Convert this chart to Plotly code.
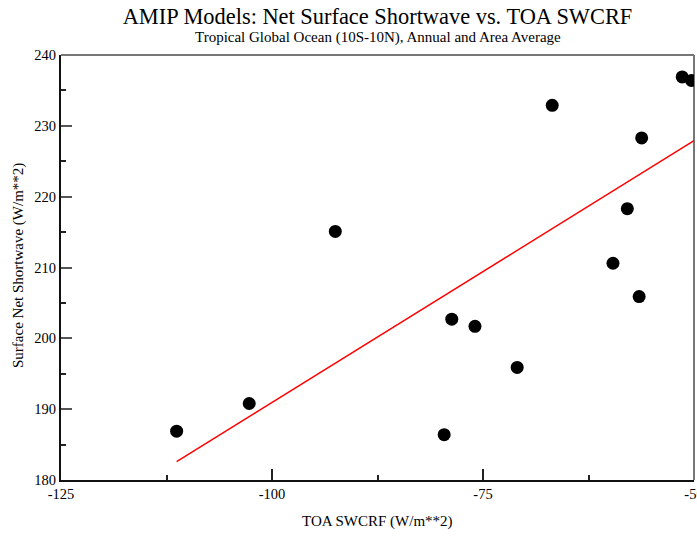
import plotly.graph_objects as go

# Model points: TOA SWCRF (W/m**2) vs Surface Net Shortwave (W/m**2)
toa_swcrf = [-111.3, -102.7, -92.5, -79.6, -78.7, -75.95, -70.95, -66.8,
             -59.6, -57.9, -56.5, -56.2, -51.4, -50.3]
sfc_net_sw = [186.9, 190.8, 215.1, 186.4, 202.7, 201.7, 195.9, 232.9,
              210.6, 218.3, 205.9, 228.3, 236.9, 236.4]

# Regression line
fit_x = [-111.3, -50.0]
fit_y = [182.6, 227.9]

x_ticks = [-125, -100, -75, -50]
y_ticks = [180, 190, 200, 210, 220, 230, 240]

FONT = "Liberation Serif"

fig = go.Figure()
fig.add_trace(go.Scatter(x=fit_x, y=fit_y, mode="lines",
                         line=dict(color="#ff0000", width=1.5),
                         showlegend=False, hoverinfo="skip"))
fig.add_trace(go.Scatter(x=toa_swcrf, y=sfc_net_sw, mode="markers",
                         marker=dict(color="black", size=13),
                         showlegend=False))

fig.update_layout(
    template="none",
    width=697, height=536,
    margin=dict(l=61, r=3, t=55, b=56, autoexpand=False),
    paper_bgcolor="white", plot_bgcolor="white",
    font=dict(family=FONT, color="black", size=14.5),
    title=dict(text="AMIP Models: Net Surface Shortwave vs. TOA SWCRF",
               x=0.5, xref="paper", xanchor="center",
               y=1 - 16 / 536, yref="container", yanchor="middle",
               font=dict(family=FONT, size=22.4, color="black")),
    xaxis=dict(range=[-125, -50], tickvals=x_ticks,
               ticktext=[str(v) for v in x_ticks],
               automargin=False,
               ticks="inside", ticklen=11, tickwidth=1.5, tickcolor="#222",
               minor=dict(ticks="inside", ticklen=5, dtick=12.5, tick0=-125,
                          tickcolor="#222", tickwidth=1.5),
               showgrid=False, zeroline=False,
               showline=True, linecolor="#111", linewidth=2,
               ticklabeloverflow="allow",
               tickfont=dict(family=FONT, size=14.5, color="black")),
    yaxis=dict(range=[180, 240], tickvals=y_ticks,
               automargin=False,
               ticks="inside", ticklen=11, tickwidth=1.5, tickcolor="#555",
               minor=dict(ticks="inside", ticklen=5, dtick=5, tick0=180,
                          tickcolor="#222", tickwidth=1.5),
               showgrid=False, zeroline=False,
               showline=True, linecolor="#111", linewidth=2,
               tickfont=dict(family=FONT, size=14.5, color="black")),
    shapes=[
        dict(type="line", xref="paper", yref="paper", x0=0, x1=1, y0=1, y1=1,
             line=dict(color="#777", width=2), layer="below"),
        dict(type="line", xref="paper", yref="paper", x0=1, x1=1, y0=0, y1=1,
             line=dict(color="#777", width=2), layer="below"),
    ],
    annotations=[
        dict(text="Tropical Global Ocean (10S-10N), Annual and Area Average",
             xref="paper", yref="paper", x=0.5, y=(480 - 37.5) / 425,
             xanchor="center", yanchor="middle", showarrow=False,
             font=dict(family=FONT, size=15, color="black")),
        dict(text="TOA SWCRF (W/m**2)",
             xref="paper", yref="paper", x=0.5, y=(480 - 521) / 425,
             xanchor="center", yanchor="middle", showarrow=False,
             font=dict(family=FONT, size=15, color="black")),
        dict(text="Surface Net Shortwave (W/m**2)", textangle=-90,
             xref="paper", yref="paper", x=(18 - 61) / 633, y=(480 - 266) / 425,
             xanchor="center", yanchor="middle", showarrow=False,
             font=dict(family=FONT, size=15, color="black")),
    ],
)

fig.write_html("out.html")
